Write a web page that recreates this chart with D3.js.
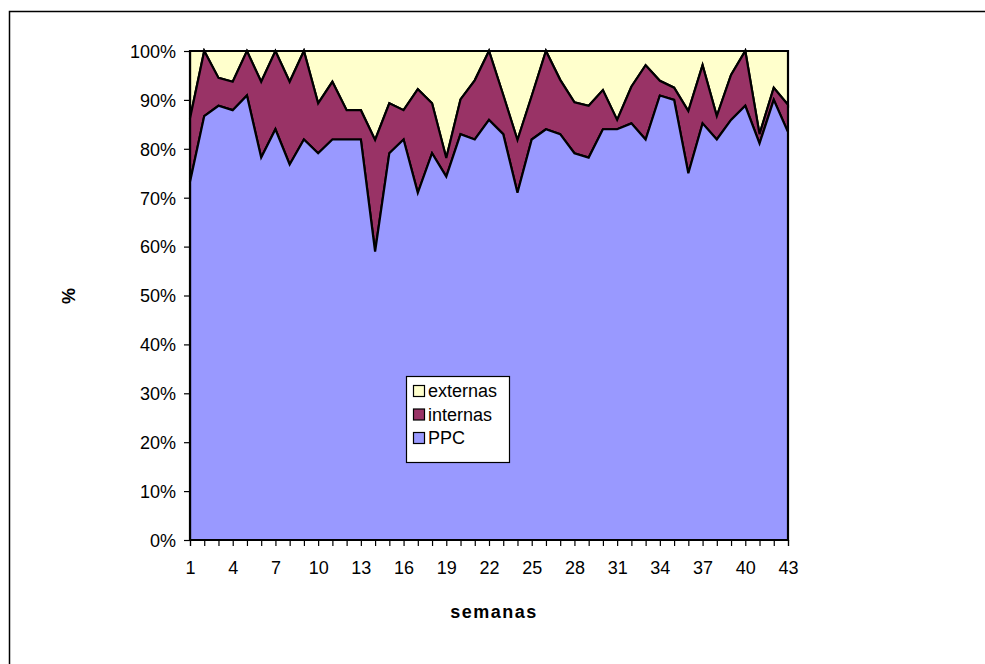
<!DOCTYPE html>
<html>
<head>
<meta charset="utf-8">
<script src="https://cdn.jsdelivr.net/npm/d3@7"></script>
<style>
  html, body { margin: 0; padding: 0; background: #fff; }
  svg { display: block; }
  text { font-family: "Liberation Sans", Arial, sans-serif; fill: #000; }
</style>
</head>
<body>
<svg id="chart" width="985" height="664"></svg>
<script>
// Weekly share (%) of each type
const weeks = d3.range(1, 44);
const ppc = [73.2, 86.7, 88.8, 87.9, 90.9, 78.2, 84.0, 76.8, 81.9, 79.1,
             81.9, 81.9, 81.9, 59.0, 79.1, 81.9, 71.0, 79.1, 74.3, 83.0,
             81.9, 85.9, 83.0, 71.0, 81.9, 84.0, 83.0, 79.1, 78.2, 84.0,
             84.0, 85.2, 81.9, 90.9, 90.0, 75.0, 85.2, 81.9, 85.9, 88.8,
             81.1, 90.0, 83.4];
const internas = [13.0, 13.3, 5.7, 5.8, 9.1, 15.5, 16.0, 16.9, 18.1, 10.2,
                  11.8, 6.0, 6.0, 22.8, 10.2, 6.0, 21.2, 10.2, 3.8, 7.1,
                  12.1, 14.1, 8.0, 10.8, 8.9, 16.0, 11.1, 10.4, 10.6, 8.0,
                  1.9, 7.5, 15.2, 3.0, 2.5, 12.7, 11.9, 4.8, 9.2, 11.2,
                  1.9, 2.5, 5.6];
const externas = [13.8, 0.0, 5.5, 6.3, 0.0, 6.3, 0.0, 6.3, 0.0, 10.7,
                  6.3, 12.1, 12.1, 18.2, 10.7, 12.1, 7.8, 10.7, 21.9, 9.9,
                  6.0, 0.0, 9.0, 18.2, 9.2, 0.0, 5.9, 10.5, 11.2, 8.0,
                  14.1, 7.3, 2.9, 6.1, 7.5, 12.3, 2.9, 13.3, 4.9, 0.0,
                  17.0, 7.5, 11.0];
const seriesNames = ["PPC", "internas", "externas"];
const seriesColors = ["#9999FF", "#993366", "#FFFFCC"];
const yTicks = [0, 0.1, 0.2, 0.3, 0.4, 0.5, 0.6, 0.7, 0.8, 0.9, 1];
const xTickLabels = d3.range(1, 44, 3);

const rows = weeks.map((w, i) => ({ week: w, PPC: ppc[i], internas: internas[i], externas: externas[i] }));

const svg = d3.select("#chart");

// outer chart frame
svg.append("rect")
  .attr("x", 9.5).attr("y", 11.5)
  .attr("width", 1000).attr("height", 700)
  .attr("fill", "#fff").attr("stroke", "#000").attr("stroke-width", 1.5);

const plot = { left: 190, right: 788, top: 51, bottom: 540 };

const x = d3.scaleLinear().domain([1, 43]).range([plot.left, plot.right]);
const y = d3.scaleLinear().domain([0, 1]).range([plot.bottom, plot.top]);

const stacked = d3.stack().keys(seriesNames).offset(d3.stackOffsetExpand)(rows);

const area = d3.area()
  .x(d => x(d.data.week))
  .y0(d => y(d[0]))
  .y1(d => y(d[1]));

// stacked areas, top series first so lower outlines sit above
svg.append("g")
  .selectAll("path")
  .data(stacked.slice().reverse())
  .join("path")
  .attr("d", area)
  .attr("fill", d => seriesColors[d.index])
  .attr("stroke", "#000")
  .attr("stroke-width", 2.2)
  .attr("stroke-linejoin", "miter");

// plot border
svg.append("rect")
  .attr("x", plot.left).attr("y", plot.top)
  .attr("width", plot.right - plot.left).attr("height", plot.bottom - plot.top)
  .attr("fill", "none").attr("stroke", "#000").attr("stroke-width", 1.5);

// y axis
const yAxis = svg.append("g")
  .attr("transform", `translate(${plot.left},0)`)
  .call(d3.axisLeft(y).tickValues(yTicks).tickFormat(d3.format(".0%")).tickSize(6).tickPadding(8));
yAxis.select(".domain").attr("stroke", "#000").attr("stroke-width", 1.2);
yAxis.selectAll(".tick line").attr("stroke", "#000").attr("stroke-width", 1.2);
yAxis.selectAll(".tick text")
  .attr("font-size", 18).attr("font-family", "Liberation Sans, Arial, sans-serif").attr("dy", "0.35em");

// x axis: a tick at every week, labels every third week
const xAxis = svg.append("g")
  .attr("transform", `translate(0,${plot.bottom})`)
  .call(d3.axisBottom(x).tickValues(weeks).tickSize(6).tickPadding(15)
    .tickFormat(d => xTickLabels.includes(d) ? d : ""));
xAxis.select(".domain").attr("stroke", "#000").attr("stroke-width", 1.2);
xAxis.selectAll(".tick line").attr("stroke", "#000").attr("stroke-width", 1.2);
xAxis.selectAll(".tick text")
  .attr("font-size", 18).attr("font-family", "Liberation Sans, Arial, sans-serif");

// axis titles
svg.append("text")
  .attr("x", 494).attr("y", 618)
  .attr("text-anchor", "middle")
  .attr("font-size", 18).attr("font-weight", "bold")
  .attr("letter-spacing", 1.5)
  .text("semanas");

svg.append("text")
  .attr("transform", "translate(75,296) rotate(-90)")
  .attr("text-anchor", "middle")
  .attr("font-size", 18).attr("font-weight", "bold")
  .text("%");

// legend
const legend = svg.append("g").attr("transform", "translate(406,376)");
legend.append("rect")
  .attr("x", 0.5).attr("y", 0.5).attr("width", 103).attr("height", 86)
  .attr("fill", "#fff").attr("stroke", "#000").attr("stroke-width", 1.2);
const legendOrder = ["externas", "internas", "PPC"];
legendOrder.forEach((name, i) => {
  const cy = 15 + i * 23.5;
  legend.append("rect")
    .attr("x", 7.5).attr("y", cy - 5.5).attr("width", 11).attr("height", 11)
    .attr("fill", seriesColors[seriesNames.indexOf(name)])
    .attr("stroke", "#000").attr("stroke-width", 1.2);
  legend.append("text")
    .attr("x", 22).attr("y", cy).attr("dy", "0.36em")
    .attr("font-size", 18)
    .text(name);
});
</script>
</body>
</html>
